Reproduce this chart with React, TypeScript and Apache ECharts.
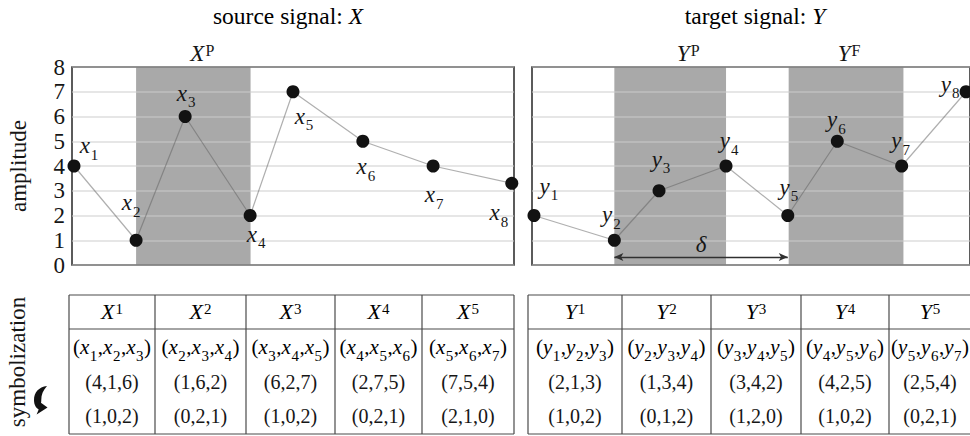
import React, { useEffect, useRef } from "react";
import * as echarts from "echarts";

// ---------- data ----------
const xTimes = [0.45, 14.5, 25.6, 40.3, 50.0, 65.8, 81.7, 99.5];
const xValues = [4, 1, 6, 2, 7, 5, 4, 3.3];
const yTimes = [0.45, 18.8, 29.0, 44.3, 58.4, 69.7, 84.4, 99.1];
const yValues = [2, 1, 3, 4, 2, 5, 4, 7];
const xPatternSpan = [14.5, 40.4];
const yPatternSpan = [18.8, 44.3];
const yFutureSpan = [58.6, 84.8];
const deltaSpan = [18.8, 58.4];
const deltaLevel = 0.32;
const windowNumbers = [1, 2, 3, 4, 5];
const windowIndices = [
  [1, 2, 3],
  [2, 3, 4],
  [3, 4, 5],
  [4, 5, 6],
  [5, 6, 7],
];
const xTuples = ["(4,1,6)", "(1,6,2)", "(6,2,7)", "(2,7,5)", "(7,5,4)"];
const xPatterns = ["(1,0,2)", "(0,2,1)", "(1,0,2)", "(0,2,1)", "(2,1,0)"];
const yTuples = ["(2,1,3)", "(1,3,4)", "(3,4,2)", "(4,2,5)", "(2,5,4)"];
const yPatterns = ["(1,0,2)", "(0,1,2)", "(1,2,0)", "(1,0,2)", "(0,2,1)"];

// ---------- layout / style ----------
const serif = "Liberation Serif, Times New Roman, serif";
const ink = "#161616";
const xLabelOffsets = [
  [15, -20], [-5, -37], [1, -23], [6, 19], [11, 25], [3, 26], [1, 29], [-13, 30],
];
const yLabelOffsets = [
  [15, -29], [-3, -25], [2, -31], [3, -25], [1, -28], [-1, -21], [-1, -25], [-16, -7],
];
const leftCols = [69, 155, 246, 335, 422, 514];
const rightCols = [528, 622, 711, 801, 889, 971];
const tableTop = 295;
const headerBottom = 329;
const tableBottom = 434;
const rowCenters = [312, 347, 382, 416];

const subRich = {
  v: { fontFamily: serif, fontStyle: "italic", fontSize: 23, lineHeight: 24, verticalAlign: "top", color: ink },
  s: { fontFamily: serif, fontSize: 15, lineHeight: 15, verticalAlign: "top", padding: [13, 0, 0, 1], color: ink },
};
const supRich = {
  v: { fontFamily: serif, fontStyle: "italic", fontSize: 23, lineHeight: 24, verticalAlign: "top", color: ink },
  p: { fontFamily: serif, fontSize: 16, lineHeight: 16, verticalAlign: "top", padding: [0, 0, 0, 1], color: ink },
};
const headRich = {
  v: { fontFamily: serif, fontStyle: "italic", fontSize: 22, lineHeight: 24, verticalAlign: "top", color: ink },
  p: { fontFamily: serif, fontSize: 15, lineHeight: 15, verticalAlign: "top", padding: [1, 0, 0, 1], color: ink },
};
const cellRich = {
  n: { fontFamily: serif, fontSize: 21, lineHeight: 22, verticalAlign: "top", color: ink },
  i: { fontFamily: serif, fontStyle: "italic", fontSize: 21, lineHeight: 22, verticalAlign: "top", color: ink },
  s: { fontFamily: serif, fontSize: 15, lineHeight: 15, verticalAlign: "top", padding: [12, 0.5, 0, 0.5], color: ink },
};
const titleRich = {
  n: { fontFamily: serif, fontSize: 23.5, color: ink },
  i: { fontFamily: serif, fontStyle: "italic", fontSize: 23.5, color: ink },
};

const arrowPath =
  "M 25 0 C 9 2 0 13 0 28 C 0 38 4 44 9 47 L 5 57 L 26 43 L 10 31 L 13 39 C 13 36 14 33 14 28 C 14 18 17 9 25 0 Z";
let registered = false;
function registerArrow() {
  if (registered) return;
  echarts.graphic.registerShape("curlArrow", echarts.graphic.extendPath(arrowPath, {}));
  registered = true;
}

function tableGraphics(cols: number[], letter: string, lower: string, tuples: string[], patterns: string[]) {
  const els: any[] = [];
  const lineStyle = { stroke: "#4a4a4a", lineWidth: 1.2 };
  [tableTop, headerBottom, tableBottom].forEach((y) => {
    els.push({ type: "line", shape: { x1: cols[0], y1: y, x2: cols[cols.length - 1], y2: y }, style: lineStyle, z: 10 });
  });
  cols.forEach((x) => {
    els.push({ type: "line", shape: { x1: x, y1: tableTop, x2: x, y2: tableBottom }, style: lineStyle, z: 10 });
  });
  windowNumbers.forEach((k, c) => {
    const cx = (cols[c] + cols[c + 1]) / 2;
    els.push({
      type: "text", z: 10,
      style: { x: cx, y: rowCenters[0], text: `{v|${letter}}{p|${k}}`, rich: headRich, align: "center", verticalAlign: "middle" },
    });
    const idx = windowIndices[c];
    const win =
      "{n|(}" + idx.map((j) => `{i|${lower}}{s|${j}}`).join("{n|,}") + "{n|)}";
    els.push({
      type: "text", z: 10,
      style: { x: cx, y: rowCenters[1], text: win, rich: cellRich, align: "center", verticalAlign: "middle" },
    });
    els.push({
      type: "text", z: 10,
      style: { x: cx, y: rowCenters[2], text: tuples[c], fontFamily: serif, fontSize: 20, fill: ink, align: "center", verticalAlign: "middle" },
    });
    els.push({
      type: "text", z: 10,
      style: { x: cx, y: rowCenters[3], text: patterns[c], fontFamily: serif, fontSize: 20, fill: ink, align: "center", verticalAlign: "middle" },
    });
  });
  return els;
}

export default function App() {
  const ref = useRef<HTMLDivElement>(null);
  useEffect(() => {
    if (!ref.current) return;
    registerArrow();
    const chart = echarts.init(ref.current, undefined, { renderer: "svg" });

    const gridCommon = { top: 67, width: 442, height: 198, show: true, borderColor: "#262626", borderWidth: 1.5, backgroundColor: "transparent", z: 2 };
    const yAxisCommon = {
      type: "value", min: 0, max: 8, interval: 1, z: 2,
      axisLine: { show: false }, axisTick: { show: false },
      splitLine: { show: true, lineStyle: { color: "rgba(205,205,205,0.65)", width: 1.5 } },
    };
    const lineCommon = {
      type: "line", z: 3, clip: false, symbol: "circle", symbolSize: 13, showSymbol: true,
      itemStyle: { color: "#121212" },
      lineStyle: { color: "rgba(95,95,95,0.5)", width: 1.2 },
      emphasis: { disabled: true },
      silent: true,
      label: { show: true, position: "inside", color: ink, rich: subRich },
    };
    const areaLabel = (letter: string) => ({
      show: true, position: "top", distance: 1,
      formatter: (p: any) => `{v|${letter}}{p|${p.name}}`, rich: supRich,
    });

    const option: any = {
      animation: false,
      textStyle: { fontFamily: serif },
      grid: [{ ...gridCommon, left: 72 }, { ...gridCommon, left: 532 }],
      xAxis: [0, 1].map((i) => ({ type: "value", gridIndex: i, min: 0, max: 100, show: false })),
      yAxis: [
        {
          ...yAxisCommon, gridIndex: 0,
          axisLabel: { show: true, fontSize: 23, fontFamily: serif, color: ink, margin: 7 },
          name: "amplitude", nameLocation: "middle", nameRotate: 90, nameGap: 42,
          nameTextStyle: { fontSize: 23, fontFamily: serif, color: ink },
        },
        { ...yAxisCommon, gridIndex: 1, axisLabel: { show: false } },
      ],
      series: [
        {
          type: "line", xAxisIndex: 0, yAxisIndex: 0, z: 1, silent: true, symbol: "none",
          lineStyle: { opacity: 0 },
          data: xTimes.map((t, i) => [t, xValues[i]]),
          markArea: {
            silent: true,
            itemStyle: { color: "#a9a9a9" },
            label: areaLabel("X"),
            data: [[{ name: "P", xAxis: xPatternSpan[0], label: { offset: [9, 0] } }, { xAxis: xPatternSpan[1] }]],
          },
        },
        {
          type: "line", xAxisIndex: 1, yAxisIndex: 1, z: 1, silent: true, symbol: "none",
          lineStyle: { opacity: 0 },
          data: yTimes.map((t, i) => [t, yValues[i]]),
          markArea: {
            silent: true,
            itemStyle: { color: "#a9a9a9" },
            label: areaLabel("Y"),
            data: [
              [{ name: "P", xAxis: yPatternSpan[0], label: { offset: [18, 0] } }, { xAxis: yPatternSpan[1] }],
              [{ name: "F", xAxis: yFutureSpan[0], label: { offset: [3, 0] } }, { xAxis: yFutureSpan[1] }],
            ],
          },
        },
        {
          ...lineCommon, xAxisIndex: 0, yAxisIndex: 0,
          label: { ...lineCommon.label, formatter: (p: any) => `{v|x}{s|${p.dataIndex + 1}}` },
          data: xTimes.map((t, i) => ({ value: [t, xValues[i]], label: { offset: xLabelOffsets[i] } })),
        },
        {
          ...lineCommon, xAxisIndex: 1, yAxisIndex: 1,
          label: { ...lineCommon.label, formatter: (p: any) => `{v|y}{s|${p.dataIndex + 1}}` },
          data: yTimes.map((t, i) => ({ value: [t, yValues[i]], label: { offset: yLabelOffsets[i] } })),
          markLine: {
            silent: true,
            symbol: ["arrow", "arrow"],
            symbolSize: [6, 9],
            lineStyle: { color: "#303030", width: 1.3, type: "solid" },
            label: { show: true, position: "middle", formatter: "δ", fontSize: 23, fontStyle: "italic", fontFamily: serif, color: ink, distance: 1 },
            data: [[{ coord: [deltaSpan[0], deltaLevel] }, { coord: [deltaSpan[1], deltaLevel] }]],
          },
        },
      ],
      graphic: [
        {
          type: "text", z: 10,
          style: { x: 288, y: 16, text: "{n|source signal: }{i|X}", rich: titleRich, align: "center", verticalAlign: "middle" },
        },
        {
          type: "text", z: 10,
          style: { x: 755, y: 16, text: "{n|target signal: }{i|Y}", rich: titleRich, align: "center", verticalAlign: "middle" },
        },
        {
          type: "text", z: 10, x: 17, y: 362, rotation: Math.PI / 2,
          style: { x: 0, y: 0, text: "symbolization", fontFamily: serif, fontSize: 23, fill: ink, align: "center", verticalAlign: "middle" },
        },
        {
          type: "curlArrow", x: 34, y: 386, scaleX: 0.52, scaleY: 0.5, z: 10,
          style: { fill: "#111" },
        },
        ...tableGraphics(leftCols, "X", "x", xTuples, xPatterns),
        ...tableGraphics(rightCols, "Y", "y", yTuples, yPatterns),
      ],
    };
    chart.setOption(option);
    return () => chart.dispose();
  }, []);
  return (
    <div style={{ position: "absolute", left: 0, top: 0, width: 970, height: 436, overflow: "hidden", background: "#fff" }}>
      <div ref={ref} style={{ width: 970, height: 436 }} />
    </div>
  );
}
